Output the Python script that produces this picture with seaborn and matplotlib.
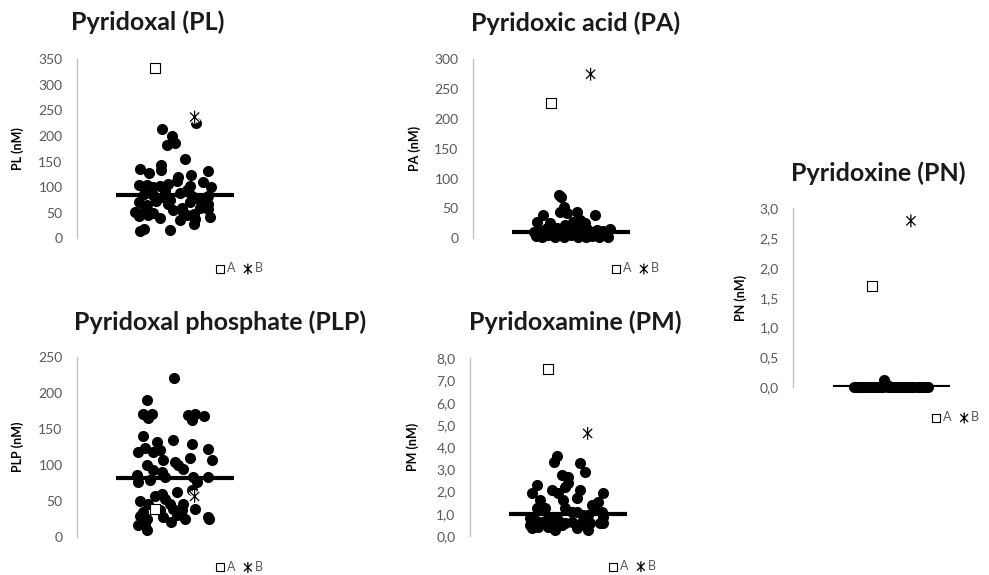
import numpy as np
import pandas as pd
import matplotlib
matplotlib.use("Agg")
import matplotlib.pyplot as plt
import matplotlib.patheffects as pe
from matplotlib.path import Path
import seaborn as sns

sns.set_theme(style="white")
plt.rcParams["font.family"] = ["Lato", "DejaVu Sans"]

# ---------------------------------------------------------------- data
# Pyridoxal (PL), nM
pl_jitter = [0.87, 0.97, 0.915, 1.00, 1.21, 1.10,
             0.64, 0.73, 0.857, 0.86, 1.34, 1.16, 1.03,
             0.63, 0.71, 0.78, 0.85, 0.93, 1.02, 1.15, 1.29, 1.37,
             0.68, 0.78, 0.88, 1.05, 1.17, 1.34,
             0.63, 0.71, 0.81, 0.93, 1.07, 1.15, 1.34,
             0.59, 0.68, 0.78, 0.98, 1.08, 1.19, 1.34,
             0.63, 0.85, 1.12, 1.20, 1.36,
             1.19, 0.64, 0.68, 0.95,
             0.75, 0.90, 1.12, 0.95, 1.25, 0.72, 1.05, 1.26]
pl_values = [213, 201, 183, 186, 226, 156,
             136, 128, 144, 133, 131, 124, 120,
             104, 105, 100, 102, 107, 112, 103, 110, 100,
             86, 84, 80, 88, 82, 82,
             70, 65, 72, 68, 60, 70, 68,
             52, 56, 50, 55, 52, 48, 58,
             44, 40, 45, 38, 42,
             28, 15, 18, 16,
             95, 92, 95, 75, 75, 45, 35, 60]
pl_median = 84
pl_a, pl_b = 333, 237
pl_ticks = [0, 50, 100, 150, 200, 250, 300, 350]

# Pyridoxic acid (PA), nM
pa_jitter = [0.88, 0.90, 0.93, 0.89, 1.06, 1.24, 0.71, 0.96, 0.65, 1.09, 1.14, 0.79, 1.02, 0.94, 1.12, 0.86,
             0.62, 0.64, 0.67, 0.70, 0.72, 0.77, 0.80, 0.84, 0.89, 0.93,
             0.96, 1.00, 1.04, 1.07, 1.11, 1.15, 1.18, 1.21, 1.25, 1.29,
             1.33, 1.37, 1.40, 1.38, 0.75, 0.98, 1.16, 1.27]
pa_values = [72, 70, 53, 44, 44, 39, 39, 42, 28, 31, 25, 25, 28, 22, 20, 18,
             10, 4, 14, 2, 8, 5, 12, 3, 8, 2,
             12, 5, 15, 3, 8, 2, 12, 4, 8, 3,
             12, 5, 15, 3, 18, 16, 16, 14]
pa_median = 11
pa_a, pa_b = 227, 275
pa_ticks = [0, 50, 100, 150, 200, 250, 300]

# Pyridoxine (PN), nM
pn_jitter = [0.62, 0.64, 0.67, 0.69, 0.71, 0.74, 0.76, 0.78, 0.81, 0.83,
             0.85, 0.88, 0.90, 0.93, 0.95, 0.97, 1.00, 1.02, 1.04, 1.07,
             1.09, 1.11, 1.14, 1.16, 1.18, 1.21, 1.23, 1.27, 1.30, 1.33,
             1.35, 1.37, 0.68, 0.80, 0.92, 1.06, 1.19, 0.98]
pn_values = [0.0, 0.0, 0.0, 0.0, 0.0, 0.0, 0.0, 0.0, 0.0, 0.0,
             0.0, 0.0, 0.0, 0.13, 0.06, 0.0, 0.0, 0.0, 0.0, 0.0,
             0.0, 0.0, 0.0, 0.0, 0.0, 0.0, 0.0, 0.0, 0.0, 0.0,
             0.0, 0.0, 0.0, 0.0, 0.0, 0.0, 0.0, 0.03]
pn_median = 0.0
pn_a, pn_b = 1.70, 2.79
pn_ticks = [0.0, 0.5, 1.0, 1.5, 2.0, 2.5, 3.0]

# Pyridoxal phosphate (PLP), nM
plp_jitter = [0.99, 0.717, 0.677, 0.762, 0.721, 1.136, 1.204, 1.299, 1.170,
              0.677, 0.976, 0.813, 1.170, 1.333, 0.626, 0.694, 0.779, 0.847,
              0.881, 1.000, 1.153, 1.374, 0.711, 1.034, 1.085, 0.779, 0.864,
              0.609, 0.898, 1.187, 1.333, 0.626, 0.745, 1.221,
              1.170, 1.017, 0.864, 0.796, 0.898, 0.643, 0.728, 0.949, 1.085,
              0.983, 0.847, 1.068, 1.204, 0.677, 0.643, 0.711, 0.881, 1.017,
              1.102, 1.333, 1.347, 0.626, 0.694, 0.959, 0.711]
plp_values = [221, 190, 170, 170, 165, 169, 170, 168, 162,
              140, 134, 132, 129, 122, 118, 123, 118, 120,
              107, 104, 109, 107, 99, 100, 94, 93, 90,
              86, 83, 83, 83, 76, 79, 76,
              65, 62, 60, 56, 53, 49, 46, 46, 45,
              39, 37, 37, 39, 35, 29, 25, 28, 30,
              25, 28, 25, 16, 16, 21, 9]
plp_median = 82
plp_a, plp_b = 38, 56
plp_ticks = [0, 50, 100, 150, 200, 250]

# Pyridoxamine (PM), nM
pm_jitter = [0.885, 0.861, 1.122, 1.173, 0.935, 0.997, 1.003, 0.969, 0.680, 1.122,
             0.629, 0.901, 0.833, 1.361, 1.088, 0.714, 0.952, 1.310, 1.241, 1.276,
             0.680, 0.765, 0.969, 1.037, 1.088, 1.156, 1.207, 1.344, 1.361,
             0.612, 0.663, 0.731, 0.799, 0.850, 0.901, 0.969, 1.037, 1.139, 1.224,
             1.327, 1.360, 0.612, 0.629, 0.697, 0.867, 0.935, 1.088, 1.173, 1.207, 0.799]
pm_values = [3.60, 3.35, 3.27, 2.90, 2.75, 2.64, 2.37, 2.22, 2.30, 2.07,
             1.92, 1.92, 2.07, 1.92, 1.70, 1.62, 1.62, 1.55, 1.40, 1.17,
             1.25, 1.25, 1.25, 1.10, 1.10, 0.95, 0.95, 1.10, 0.87,
             0.80, 0.72, 0.65, 0.80, 0.72, 0.72, 0.57, 0.65, 0.65, 0.57,
             0.57, 0.60, 0.50, 0.35, 0.42, 0.27, 0.50, 0.35, 0.50, 0.27, 0.42]
pm_median = 1.0
pm_a, pm_b = 7.5, 4.62
pm_ticks = [0.0, 1.0, 2.0, 3.0, 4.0, 5.0, 6.0, 7.0, 8.0]

# ---------------------------------------------------------------- styling
W, H = 989, 575
AXIS_GRAY = "#BFBFBF"
TEXT_GRAY = "#595959"

ASTERISK = Path(
    [(0, -1), (0, 1), (-0.72, -0.72), (0.72, 0.72), (-0.72, 0.72), (0.72, -0.72)],
    [Path.MOVETO, Path.LINETO, Path.MOVETO, Path.LINETO, Path.MOVETO, Path.LINETO],
)

fig = plt.figure(figsize=(W / 100, H / 100), dpi=100)
fig.patch.set_facecolor("white")

# (title, ylabel, jitter, values, median, A, B, ticks, decimals,
#  axes box in pixels: left, top, bottom; title centre; ylabel offset)
panels = [
    ("Pyridoxal (PL)", "PL (nM)", pl_jitter, pl_values, pl_median, pl_a, pl_b,
     pl_ticks, 0, (77, 59.3, 238.3), (148, 22), 59),
    ("Pyridoxic acid (PA)", "PA (nM)", pa_jitter, pa_values, pa_median, pa_a, pa_b,
     pa_ticks, 0, (473, 59.3, 238.3), (576, 23), 58),
    ("Pyridoxine (PN)", "PN (nM)", pn_jitter, pn_values, pn_median, pn_a, pn_b,
     pn_ticks, 1, (793.3, 208.3, 387.3), (878, 173), 53),
    ("Pyridoxal phosphate (PLP)", "PLP (nM)", plp_jitter, plp_values, plp_median, plp_a, plp_b,
     plp_ticks, 0, (77, 356.7, 536.7), (220, 322), 59),
    ("Pyridoxamine (PM)", "PM (nM)", pm_jitter, pm_values, pm_median, pm_a, pm_b,
     pm_ticks, 1, (470, 358.3, 536.0), (575, 322), 57),
]

AX_W = 196

for (title, ylab, xs, ys, med, a_val, b_val, ticks, dec,
     (left, top, bottom), (tx, ty), lab_off) in panels:
    ax = fig.add_axes([left / W, 1 - bottom / H, AX_W / W, (bottom - top) / H])
    df = pd.DataFrame({"x": xs, "y": ys})

    sns.scatterplot(data=df, x="x", y="y", ax=ax, color="black", s=64,
                    linewidth=0, clip_on=False, legend=False, zorder=2)
    ax.hlines(med, 0.4, 1.6, color="black", lw=3.0, zorder=3)

    sns.scatterplot(x=[0.8], y=[a_val], ax=ax, marker="s", s=52,
                    facecolor="white", edgecolor="black", linewidth=0.8,
                    label="A", zorder=4, clip_on=False)
    sns.scatterplot(x=[1.2], y=[b_val], ax=ax, marker=ASTERISK, s=85,
                    facecolor="none", edgecolor="black", linewidth=0.9,
                    label="B", zorder=5, clip_on=False)
    ax.collections[-1].set_path_effects(
        [pe.Stroke(linewidth=2.6, foreground="white"), pe.Normal()])

    ax.set_xlim(0, 2)
    ax.set_ylim(ticks[0], ticks[-1])
    ax.set_yticks(ticks)
    if dec:
        ax.set_yticklabels([f"{t:.1f}".replace(".", ",") for t in ticks])
    else:
        ax.set_yticklabels([f"{t:d}" for t in ticks])
    ax.set_xticks([])
    ax.set_xlabel("")
    ax.tick_params(axis="y", length=0, pad=10.4, labelsize=10,
                   labelcolor=TEXT_GRAY)
    for side in ("top", "right", "bottom"):
        ax.spines[side].set_visible(False)
    ax.spines["left"].set_color(AXIS_GRAY)
    ax.spines["left"].set_linewidth(0.9)
    ax.set_facecolor("none")

    ax.set_ylabel(ylab, fontsize=9, fontweight="bold", color="black",
                  ha="center", va="center")
    ax.yaxis.set_label_coords(-lab_off / AX_W, 0.5)

    leg = ax.legend(loc="center left", bbox_to_anchor=(138 / AX_W, -30 / (bottom - top)),
                    ncol=2, frameon=False, fontsize=9, handlelength=0.8,
                    handletextpad=0.15, columnspacing=0.6, borderpad=0,
                    borderaxespad=0, markerscale=0.85)
    for txt in leg.get_texts():
        txt.set_color(TEXT_GRAY)

    fig.text(tx / W, 1 - ty / H, title, ha="center", va="center",
             fontsize=18, fontweight="bold", color="#1a1a1a")

fig.savefig("out.png", dpi=100, facecolor="white")
